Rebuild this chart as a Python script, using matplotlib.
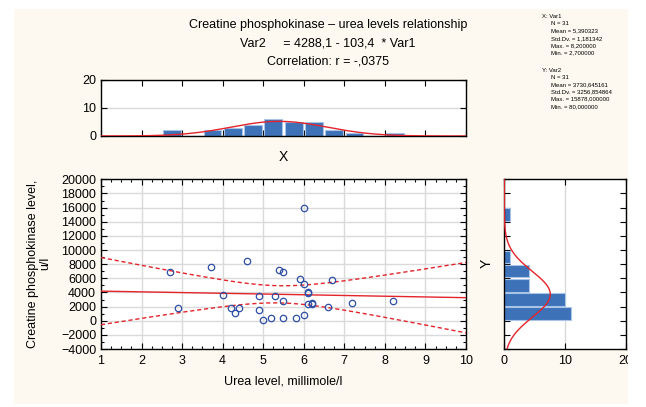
import numpy as np
import matplotlib
matplotlib.use('Agg')
import matplotlib.pyplot as plt
from matplotlib.patches import Rectangle
from matplotlib.ticker import MultipleLocator

plt.rcParams['font.family'] = ['Liberation Sans', 'DejaVu Sans']

# ---- data ----
urea = [2.7, 2.9, 3.7, 4.0, 4.2, 4.3, 4.4, 4.6, 4.9, 4.9, 5.0, 5.2, 5.3, 5.4, 5.5, 5.5,
        5.5, 5.8, 5.9, 6.0, 6.0, 6.0, 6.1, 6.1, 6.1, 6.2, 6.2, 6.6, 6.7, 7.2, 8.2]
cpk = [6950, 1850, 7550, 3650, 1800, 1050, 1750, 8450, 3550, 1450, 80, 350, 3550, 7200, 6950, 2750,
       420, 350, 5850, 15878, 5250, 850, 4020, 3900, 2400, 2400, 2450, 1950, 5700, 2550, 2850]

title_lines = ["Creatine phosphokinase \u2013 urea levels relationship",
               "Var2     = 4288,1 - 103,4  * Var1",
               "Correlation: r = -,0375"]
stats_x = ["X: Var1", "N = 31", "Mean = 5,390323", "Std.Dv. = 1,181342",
           "Max. = 8,200000", "Min. = 2,700000"]
stats_y = ["Y: Var2", "N = 31", "Mean = 3730,645161", "Std.Dv. = 3256,854864",
           "Max. = 15878,000000", "Min. = 80,000000"]
xlabel = "Urea level, millimole/l"
ylabel = "Creatine phosphokinase level,\nu/l"

x = np.array(urea, dtype=float)
y = np.array(cpk, dtype=float)
n = len(x)

# ---- styles ----
W, H = 646, 407
cream = '#fdf9f1'
red = '#e3242b'
blue = '#3d72b9'
bar_edge = '#a9c4e6'
grid_c = '#dadada'
marker_c = '#2f4fa5'
FS = 9

fig = plt.figure(figsize=(W / 100, H / 100), dpi=100, facecolor='white')


def rect(l, t, r, b):
    return [l / W, 1 - b / H, (r - l) / W, (b - t) / H]


fig.patches.append(Rectangle((14 / W, 1 - 404 / H), (627.5 - 14) / W, (404 - 9) / H,
                             transform=fig.transFigure, facecolor=cream,
                             edgecolor='none', zorder=-10))

ax = fig.add_axes(rect(101, 179.3, 466, 349))
axt = fig.add_axes(rect(101, 80, 466, 136))
axr = fig.add_axes(rect(504.3, 179.3, 625.5, 349))

for a in (ax, axt, axr):
    a.set_facecolor('white')
    for s in a.spines.values():
        s.set_linewidth(1.0)
        s.set_color('black')
    a.set_axisbelow(True)
    a.tick_params(which='both', direction='in', top=True, right=True,
                  labelsize=FS, width=0.8, colors='black')
    a.tick_params(which='major', length=4, pad=3.5)
    a.tick_params(which='minor', length=2.5)

# ---- scatter ----
ax.set_xlim(1, 10)
ax.set_ylim(-4000, 20000)
ax.set_xticks(range(1, 11))
ax.set_yticks(range(-4000, 20001, 2000))
ax.xaxis.set_minor_locator(MultipleLocator(0.25))
ax.yaxis.set_minor_locator(MultipleLocator(1000))
ax.grid(True, which='major', color=grid_c, lw=1.0)
ax.tick_params(axis='x', which='major', pad=4.5)

b, a0 = np.polyfit(x, y, 1)
xs = np.linspace(1, 10, 300)
yfit = a0 + b * xs
res = y - (a0 + b * x)
s = np.sqrt(np.sum(res ** 2) / (n - 2))
sxx = np.sum((x - x.mean()) ** 2)
tval = 2.045
half = tval * s * np.sqrt(1.0 / n + (xs - x.mean()) ** 2 / sxx)
ax.plot(xs, yfit, color=red, lw=1.0, zorder=3)
ax.plot(xs, yfit + half, color=red, lw=1.0, ls=(0, (3, 2)), zorder=3)
ax.plot(xs, yfit - half, color=red, lw=1.0, ls=(0, (3, 2)), zorder=3)
ax.plot(x, y, 'o', mfc='none', mec=marker_c, ms=4.6, mew=0.9, zorder=4)

# ---- top histogram (X) ----
xedges = np.arange(1, 10.001, 0.5)
xidx = np.searchsorted(xedges, x, side='left') - 1
xcounts = np.bincount(xidx, minlength=len(xedges) - 1)
axt.bar(xedges[:-1] + 0.25, xcounts, width=0.44, color=blue, edgecolor=bar_edge,
        lw=0.8, zorder=2)
mx, sx = x.mean(), x.std(ddof=1)
gx = np.linspace(1, 10, 300)
axt.plot(gx, n * 0.5 * np.exp(-0.5 * ((gx - mx) / sx) ** 2) / (sx * np.sqrt(2 * np.pi)),
         color=red, lw=1.0, zorder=3)
axt.set_xlim(1, 10)
axt.set_ylim(0, 20)
axt.set_xticks(range(1, 11))
axt.set_yticks([0, 10, 20])
axt.tick_params(axis='x', labelbottom=False)
axt.yaxis.grid(True, color=grid_c, lw=1.0)

# ---- right histogram (Y) ----
yedges = np.arange(-4000, 20001, 2000)
ycounts, _ = np.histogram(y, bins=yedges)
axr.barh(yedges[:-1] + 1000, ycounts, height=1760, color=blue, edgecolor=bar_edge,
         lw=0.8, zorder=2)
my, sy = y.mean(), y.std(ddof=1)
gy = np.linspace(-4000, 20000, 400)
axr.plot(n * 2000 * np.exp(-0.5 * ((gy - my) / sy) ** 2) / (sy * np.sqrt(2 * np.pi)), gy,
         color=red, lw=1.0, zorder=3)
axr.set_xlim(0, 20)
axr.set_ylim(-4000, 20000)
axr.set_xticks([0, 10, 20])
axr.set_yticks(range(-4000, 20001, 2000))
axr.tick_params(axis='y', labelleft=False)
axr.tick_params(axis='x', which='major', pad=4.5)
axr.xaxis.grid(True, color=grid_c, lw=1.0)

# ---- texts ----
for txt, ty in zip(title_lines, [25, 43, 61]):
    fig.text(328 / W, 1 - ty / H, txt, ha='center', va='center', fontsize=FS)

sy0 = 16.5
for i, t in enumerate(stats_x):
    fig.text((542 if i == 0 else 551) / W, 1 - (sy0 + i * 7.3) / H, t,
             ha='left', va='center', fontsize=4.3)
sy1 = 70
for i, t in enumerate(stats_y):
    fig.text((542 if i == 0 else 551) / W, 1 - (sy1 + i * 7.3) / H, t,
             ha='left', va='center', fontsize=4.3)

fig.text(283 / W, 1 - 157 / H, 'X', ha='center', va='center', fontsize=FS + 1)
fig.text(487 / W, 1 - 263 / H, 'Y', ha='center', va='center', fontsize=FS + 1, rotation=90)
fig.text(283 / W, 1 - 382 / H, xlabel, ha='center', va='center', fontsize=FS)
fig.text(39 / W, 1 - 263.5 / H, ylabel, ha='center', va='center', fontsize=FS,
         rotation=90, multialignment='center', linespacing=1.05)

# cover outside the panel on the right (clips the last tick label like the reference)
fig.patches.append(Rectangle((627.5 / W, 0), (W - 627.5) / W, 1, transform=fig.transFigure,
                             facecolor='white', edgecolor='none', zorder=20))

fig.savefig('out.png', dpi=100, facecolor='white')
